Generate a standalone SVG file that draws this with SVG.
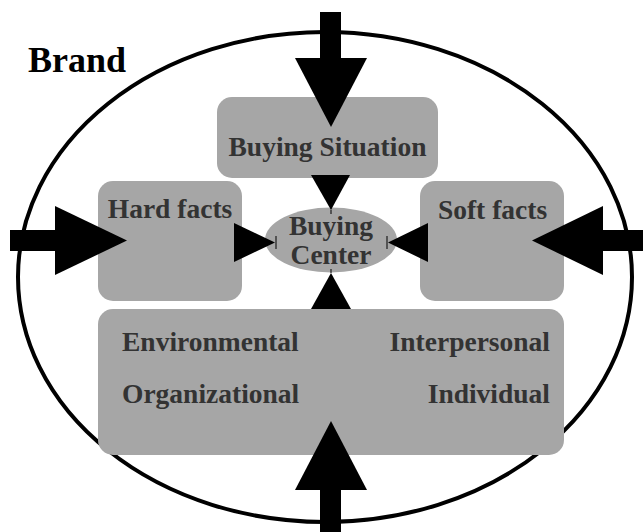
<svg xmlns="http://www.w3.org/2000/svg" width="643" height="532" viewBox="0 0 643 532">
<style>
.box{fill:#a6a6a6}
.t{font-family:"Liberation Serif","Times New Roman",serif;font-weight:bold;font-size:27.5px;fill:#333}
.blk{fill:#000}
</style>
<rect width="643" height="532" fill="#fff"/>
<g id="brand">
<ellipse cx="325" cy="277" rx="307" ry="245" fill="none" stroke="#000" stroke-width="4"/>
<text x="28" y="72" style="font-family:'Liberation Serif','Times New Roman',serif;font-weight:bold;font-size:36px;fill:#000">Brand</text>
</g>
<g id="buying-situation">
<rect class="box" x="217" y="97" width="221" height="81" rx="15"/>
<text class="t" x="327.5" y="156" text-anchor="middle">Buying Situation</text>
</g>
<g id="hard-facts">
<rect class="box" x="98" y="181" width="144" height="120" rx="15"/>
<text class="t" x="170" y="218" text-anchor="middle">Hard facts</text>
</g>
<g id="soft-facts">
<rect class="box" x="420" y="181" width="144" height="120" rx="15"/>
<text class="t" x="492.5" y="219" text-anchor="middle">Soft facts</text>
</g>
<g id="factors">
<rect class="box" x="98" y="309" width="466" height="146" rx="15"/>
<text class="t" x="122" y="351">Environmental</text>
<text class="t" x="550" y="351" text-anchor="end">Interpersonal</text>
<text class="t" x="122" y="403">Organizational</text>
<text class="t" x="550" y="403" text-anchor="end">Individual</text>
</g>
<g id="buying-center">
<ellipse class="box" cx="331" cy="240" rx="66" ry="32.5"/>
<text class="t" x="331" y="235" text-anchor="middle">Buying</text>
<text class="t" x="331" y="264" text-anchor="middle">Center</text>
</g>
<g id="connectors">
<rect class="blk" x="320" y="12" width="21" height="48"/>
<polygon class="blk" points="295,58 367,58 331,127"/>
<rect class="blk" x="10" y="230" width="48" height="21"/>
<polygon class="blk" points="55,206 55,275 127,240.5"/>
<rect class="blk" x="600" y="230" width="43" height="21"/>
<polygon class="blk" points="603,206 603,275 532,240.5"/>
<rect class="blk" x="320" y="488" width="21" height="44"/>
<polygon class="blk" points="295,490 367,490 331,421"/>
<polygon class="blk" points="311,175 350,175 331,210"/>
<line x1="331" y1="210" x2="331" y2="214" stroke="#000" stroke-width="1"/>
<polygon class="blk" points="234,223 234,262 275,242.5"/>
<line x1="276" y1="236" x2="276" y2="249" stroke="#000" stroke-width="1"/>
<polygon class="blk" points="428,223 428,262 388,242.5"/>
<line x1="387" y1="236" x2="387" y2="249" stroke="#000" stroke-width="1"/>
<polygon class="blk" points="311,309 351,309 331,273"/>
<line x1="331" y1="269" x2="331" y2="273" stroke="#000" stroke-width="1"/>
</g>
</svg>
